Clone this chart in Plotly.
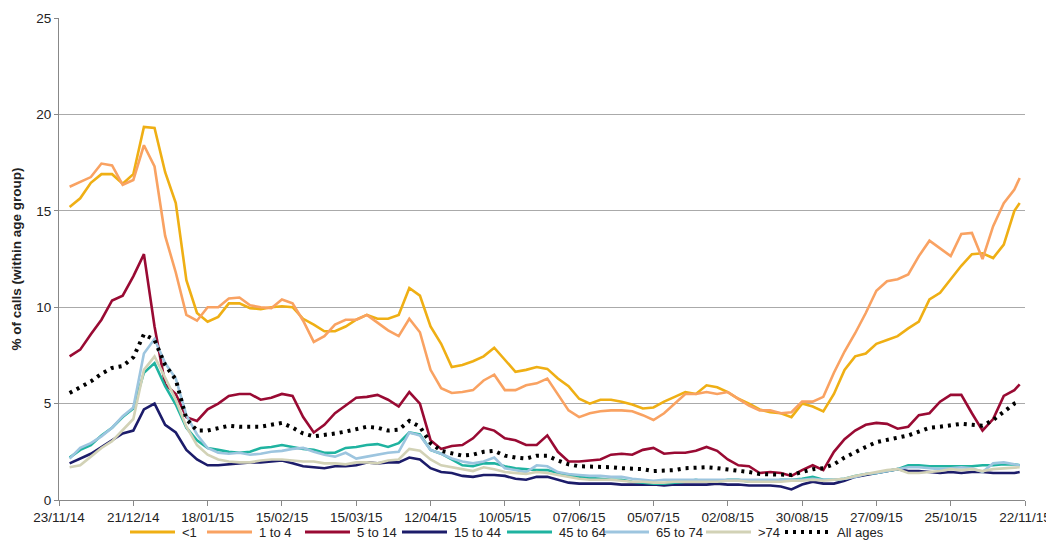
import plotly.graph_objects as go
import pandas as pd

# Sample dates: every 4 days from 27/11/14, plus the last day shown
dates = list(pd.date_range("2014-11-27", periods=90, freq="4D").strftime("%Y-%m-%d")) + ["2015-11-20"]

# % of calls (within age group)
under_1 = [15.2, 15.65, 16.45, 16.9, 16.9, 16.4, 16.9, 19.35, 19.3, 17.0,
           15.4, 11.4, 9.7, 9.25, 9.5, 10.2, 10.2, 9.95, 9.9, 10.0,
           10.05, 10.0, 9.4, 9.1, 8.75, 8.75, 9.0, 9.35, 9.6, 9.4,
           9.4, 9.6, 11.0, 10.6, 9.0, 8.1, 6.9, 7.0, 7.2, 7.45,
           7.9, 7.3, 6.65, 6.75, 6.9, 6.8, 6.3, 5.9, 5.25, 5.0,
           5.2, 5.2, 5.1, 4.95, 4.75, 4.8, 5.1, 5.35, 5.6, 5.5,
           5.95, 5.85, 5.6, 5.25, 5.0, 4.7, 4.55, 4.5, 4.3, 5.0,
           4.85, 4.6, 5.5, 6.75, 7.45, 7.6, 8.1, 8.3, 8.5, 8.9,
           9.25, 10.4, 10.75, 11.45, 12.15, 12.75, 12.8, 12.55, 13.25, 15.0,
           15.4]
age_1_4 = [16.25, 16.5, 16.75, 17.45, 17.35, 16.35, 16.6, 18.4, 17.3, 13.7,
           11.8, 9.6, 9.3, 10.0, 10.0, 10.45, 10.5, 10.1, 10.0, 9.95,
           10.4, 10.2, 9.3, 8.2, 8.5, 9.1, 9.35, 9.35, 9.6, 9.2,
           8.8, 8.5, 9.4, 8.7, 6.75, 5.8, 5.55, 5.6, 5.7, 6.2,
           6.5, 5.7, 5.7, 5.95, 6.05, 6.3, 5.45, 4.65, 4.3, 4.5,
           4.6, 4.65, 4.65, 4.6, 4.4, 4.15, 4.5, 5.0, 5.5, 5.5,
           5.6, 5.5, 5.6, 5.25, 4.9, 4.65, 4.65, 4.5, 4.55, 5.1,
           5.1, 5.35, 6.6, 7.7, 8.65, 9.7, 10.85, 11.35, 11.45, 11.7,
           12.65, 13.45, 13.05, 12.65, 13.8, 13.85, 12.5, 14.2, 15.4, 16.1,
           16.7]
age_5_14 = [7.45, 7.8, 8.6, 9.35, 10.35, 10.6, 11.6, 12.75, 9.0, 6.0,
            5.5, 4.3, 4.1, 4.7, 5.0, 5.4, 5.5, 5.5, 5.2, 5.3,
            5.5, 5.4, 4.3, 3.5, 3.9, 4.5, 4.9, 5.3, 5.35, 5.45,
            5.2, 4.85, 5.6, 5.0, 3.1, 2.65, 2.8, 2.85, 3.2, 3.75,
            3.6, 3.2, 3.1, 2.85, 2.85, 3.35, 2.5, 2.0, 2.0, 2.05,
            2.1, 2.35, 2.4, 2.35, 2.6, 2.7, 2.4, 2.45, 2.45, 2.55,
            2.75, 2.55, 2.1, 1.8, 1.75, 1.4, 1.45, 1.4, 1.25, 1.55,
            1.8, 1.55, 2.5, 3.15, 3.6, 3.9, 4.0, 3.95, 3.7, 3.8,
            4.4, 4.5, 5.1, 5.45, 5.45, 4.5, 3.6, 4.2, 5.4, 5.7,
            6.0]
age_15_44 = [1.9, 2.15, 2.4, 2.75, 3.1, 3.45, 3.6, 4.7, 5.0, 3.9,
             3.5, 2.6, 2.1, 1.8, 1.8, 1.85, 1.9, 1.95, 1.95, 2.0,
             2.05, 1.9, 1.75, 1.7, 1.65, 1.75, 1.75, 1.8, 1.95, 1.9,
             1.95, 1.95, 2.2, 2.1, 1.65, 1.45, 1.4, 1.25, 1.2, 1.3,
             1.3, 1.25, 1.1, 1.05, 1.2, 1.2, 1.05, 0.9, 0.85, 0.85,
             0.85, 0.85, 0.8, 0.8, 0.8, 0.8, 0.75, 0.8, 0.8, 0.8,
             0.8, 0.85, 0.8, 0.8, 0.75, 0.75, 0.75, 0.7, 0.55, 0.8,
             0.95, 0.85, 0.85, 1.0, 1.2, 1.3, 1.4, 1.5, 1.6, 1.5,
             1.5, 1.45, 1.4, 1.45, 1.4, 1.45, 1.45, 1.4, 1.4, 1.4,
             1.45]
age_45_64 = [2.2, 2.6, 2.85, 3.35, 3.75, 4.3, 4.75, 6.6, 7.1, 5.9,
             4.95, 3.75, 3.1, 2.7, 2.6, 2.5, 2.45, 2.5, 2.7, 2.75,
             2.85, 2.75, 2.65, 2.6, 2.45, 2.45, 2.7, 2.75, 2.85, 2.9,
             2.75, 2.95, 3.5, 3.4, 2.6, 2.4, 2.1, 1.8, 1.75, 1.9,
             1.9, 1.75, 1.65, 1.6, 1.55, 1.55, 1.4, 1.25, 1.2, 1.15,
             1.1, 1.05, 1.05, 0.95, 0.9, 0.85, 0.85, 0.9, 0.95, 1.05,
             0.95, 0.95, 1.05, 1.05, 0.95, 0.95, 0.95, 1.05, 1.05, 1.1,
             1.2, 1.05, 1.05, 1.1, 1.25, 1.35, 1.4, 1.5, 1.6, 1.8,
             1.8, 1.75, 1.75, 1.75, 1.75, 1.75, 1.8, 1.8, 1.85, 1.85,
             1.8]
age_65_74 = [2.15, 2.7, 2.95, 3.3, 3.75, 4.35, 4.8, 7.6, 8.35, 7.1,
             6.3, 4.4, 3.4, 2.7, 2.45, 2.4, 2.45, 2.35, 2.4, 2.5,
             2.55, 2.65, 2.7, 2.5, 2.35, 2.25, 2.45, 2.15, 2.25, 2.35,
             2.45, 2.5, 3.5, 3.35, 2.6, 2.4, 2.15, 2.0, 1.9, 2.0,
             2.2, 1.65, 1.55, 1.45, 1.8, 1.75, 1.45, 1.35, 1.3, 1.25,
             1.25, 1.2, 1.2, 1.1, 1.05, 1.0, 1.05, 1.05, 1.05, 1.05,
             1.05, 1.05, 1.05, 1.05, 1.05, 1.05, 1.05, 1.05, 1.05, 1.05,
             1.1, 1.05, 1.05, 1.1, 1.2, 1.35, 1.4, 1.5, 1.6, 1.7,
             1.7, 1.65, 1.6, 1.65, 1.7, 1.65, 1.45, 1.9, 1.95, 1.85,
             1.8]
over_74 = [1.7, 1.8, 2.25, 2.7, 3.05, 3.6, 4.2, 6.75, 7.45, 6.35,
           5.2, 3.8, 2.85, 2.35, 2.1, 2.0, 1.95, 1.95, 2.05, 2.1,
           2.1, 2.05, 2.0, 2.0, 1.9, 1.9, 1.85, 1.95, 1.95, 1.9,
           2.05, 2.1, 2.65, 2.55, 2.1, 1.8, 1.7, 1.6, 1.5, 1.7,
           1.6, 1.45, 1.4, 1.35, 1.45, 1.4, 1.3, 1.2, 1.1, 1.05,
           1.05, 1.05, 1.0, 0.95, 0.95, 0.9, 0.9, 0.95, 0.95, 0.95,
           0.95, 0.95, 1.0, 1.0, 0.95, 0.95, 0.95, 0.95, 1.0, 1.0,
           1.05, 1.0, 1.05, 1.1, 1.25, 1.35, 1.45, 1.55, 1.6, 1.4,
           1.4, 1.45, 1.5, 1.6, 1.55, 1.6, 1.5, 1.6, 1.65, 1.7,
           1.7]
all_ages = [5.55, 5.85, 6.15, 6.55, 6.85, 6.95, 7.4, 8.6, 8.3, 7.0,
            6.25, 4.2, 3.6, 3.6, 3.7, 3.85, 3.8, 3.8, 3.8, 3.9,
            4.0, 3.75, 3.45, 3.3, 3.35, 3.45, 3.55, 3.65, 3.8, 3.75,
            3.6, 3.65, 4.1, 3.8, 2.95, 2.55, 2.4, 2.3, 2.35, 2.5,
            2.55, 2.3, 2.2, 2.15, 2.3, 2.3, 2.05, 1.85, 1.75, 1.75,
            1.75, 1.7, 1.65, 1.65, 1.6, 1.5, 1.5, 1.55, 1.65, 1.7,
            1.7, 1.65, 1.6, 1.5, 1.45, 1.35, 1.35, 1.35, 1.3, 1.45,
            1.6, 1.65, 1.85, 2.2, 2.5, 2.75, 3.0, 3.1, 3.25, 3.35,
            3.55, 3.75, 3.8, 3.85, 3.95, 3.9, 3.85, 4.15, 4.6, 5.0,
            5.1]

series = [
    ('<1', under_1, '#EFAF14', 'solid'),
    ('1 to 4', age_1_4, '#F9A262', 'solid'),
    ('5 to 14', age_5_14, '#990A33', 'solid'),
    ('15 to 44', age_15_44, '#1C1C6A', 'solid'),
    ('45 to 64', age_45_64, '#1FB3A0', 'solid'),
    ('65 to 74', age_65_74, '#9DC5DF', 'solid'),
    ('>74', over_74, '#D2D2B6', 'solid'),
    ('All ages', all_ages, '#000000', '3px,5px'),
]

# Legend entries: left edge of the line sample on the page (px)
legend_left = [130, 207, 305, 402, 507, 604, 706, 785]

# Page geometry: the page body adds an 8px margin round the figure
PAGE_PAD = 8
ML, MR, MT, MB = 51, 29, 10, 45
FIG_W, FIG_H = 1054 - PAGE_PAD, 545 - PAGE_PAD
PLOT_W = FIG_W - ML - MR
PLOT_H = FIG_H - MT - MB


def paper_x(px):
    return (px - PAGE_PAD - ML) / PLOT_W


def paper_y(py):
    return (FIG_H - MB + PAGE_PAD - py) / PLOT_H


fig = go.Figure()

for name, values, color, dash in series:
    width = 4 if name == 'All ages' else 2.6
    fig.add_trace(go.Scatter(
        x=dates,
        y=values,
        mode='lines',
        name=name,
        line=dict(color=color, width=width, dash=dash),
        showlegend=False,
    ))

# Hand-made legend row under the axis (keeps the plot area fixed)
legend_y = paper_y(532)
for (name, values, color, dash), left in zip(series, legend_left):
    width = 4 if name == 'All ages' else 3
    fig.add_shape(type='line', xref='paper', yref='paper',
                  x0=paper_x(left), x1=paper_x(left + 45),
                  y0=legend_y, y1=legend_y,
                  line=dict(color=color, width=width, dash=dash))
    fig.add_annotation(xref='paper', yref='paper',
                       x=paper_x(left + 50), y=legend_y,
                       xanchor='left', yanchor='middle',
                       text=name.replace('<', '&lt;').replace('>', '&gt;'),
                       showarrow=False, font=dict(size=13, color='#222222'))

# Layout in the style of the original office chart
fig.update_layout(
    width=FIG_W,
    height=FIG_H,
    margin=dict(l=ML, r=MR, t=MT, b=MB, autoexpand=False),
    paper_bgcolor='white',
    plot_bgcolor='white',
    font=dict(family='Liberation Sans, Arial, sans-serif', size=13, color='#222222'),
    showlegend=False,
)

fig.update_xaxes(
    type='date',
    range=['2014-11-23', '2015-11-22'],
    tick0='2014-11-23',
    dtick=28 * 86400000,
    tickformat='%d/%m/%y',
    ticks='outside',
    ticklen=5,
    tickcolor='#888888',
    showline=True,
    linecolor='#888888',
    showgrid=False,
    automargin=False,
    tickfont=dict(size=13.5),
)

fig.update_yaxes(
    range=[0, 25],
    dtick=5,
    ticks='outside',
    ticklen=4,
    tickcolor='#888888',
    showline=True,
    linecolor='#888888',
    gridcolor='#AAAAAA',
    zeroline=False,
    automargin=False,
    tickfont=dict(size=13.5),
    title=dict(text='% of calls (within age group)',
               font=dict(size=13.5, weight='bold'), standoff=11),
)

fig.write_html("out.html")
